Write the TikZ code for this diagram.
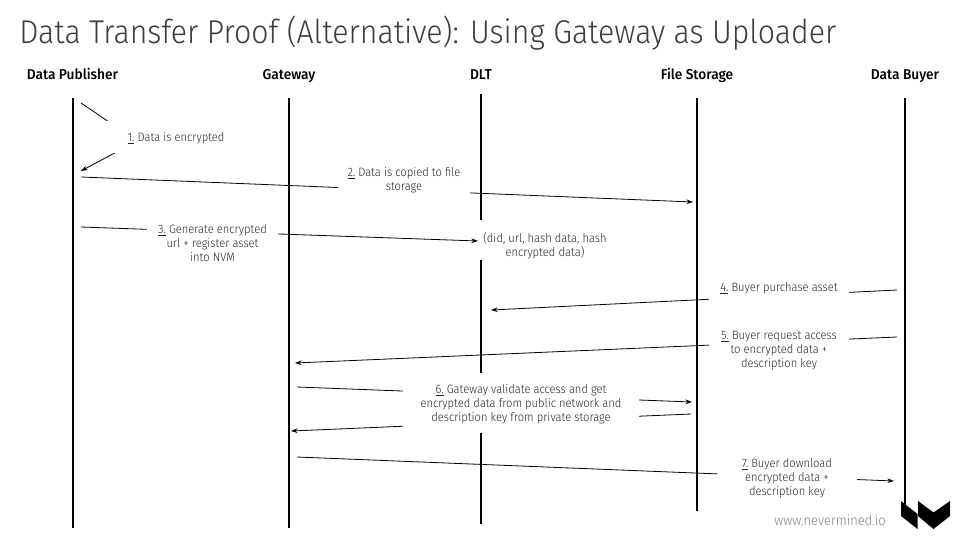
\documentclass[tikz,border=0pt]{standalone}
\usepackage{fontspec}
\setmainfont{Fira Sans Light}[FakeStretch=0.92,BoldFont=Fira Sans Medium,BoldFeatures={FakeStretch=0.96}]
\usetikzlibrary{backgrounds,arrows.meta}
\definecolor{softgrey}{RGB}{40,40,40}
\definecolor{titlegrey}{RGB}{60,60,60}
\tikzset{
  actor/.style={font=\bfseries\fontsize{10.7}{12}\selectfont, text=black, anchor=base},
  lifeline/.style={line width=1.5pt, black},
  msgline/.style={line width=0.6pt, black},
  msg/.style={msgline, -{Stealth[length=5pt,width=3.5pt]}},
  lbl/.style={font=\fontsize{9.1}{10.5}\selectfont, text=softgrey, fill=white, align=center,
    inner sep=0pt, text depth=0pt},
}
\begin{document}
\begin{tikzpicture}[x=0.75pt,y=-0.75pt]
  \useasboundingbox (0,0) rectangle (960,540);
  % Title
  \node[anchor=base west, inner sep=0pt, text=titlegrey, font=\fontsize{24.7}{28}\selectfont] (title) at (19,43)
    {Data Transfer Proof (Alternative): Using Gateway as Uploader};
  % Actors and their lifelines
  \foreach \name/\x/\ytop/\ybot/\txt in {pub/72.5/98/528/Data Publisher, gate/289/98/528/Gateway,
      dlt/481/94/524/DLT, store/697/98/511/File Storage, buyer/905/98/505/Data Buyer} {
    \node[actor] (\name) at (\x,79) {\txt};
    \coordinate (\name top) at (\x,\ytop);
    \coordinate (\name bot) at (\x,\ybot);
  }
  % Labels
  \node[lbl, minimum width=105pt, minimum height=24pt] (m1) at (176,137) {\underline{1.} Data is encrypted};
  \node[lbl, minimum width=99pt, minimum height=29pt] (m2) at (404,179) {\underline{2.} Data is copied to file\\storage};
  \node[lbl, minimum width=98pt, minimum height=42pt] (m3) at (212.5,243) {\underline{3.} Generate encrypted\\url + register asset\\into NVM};
  \node[lbl, minimum width=100pt, minimum height=30pt] (m3b) at (545,240) {\rule{0pt}{14pt}(did, url, hash data, hash\\encrypted data)};
  \node[lbl, minimum width=105pt, minimum height=23pt] (m4) at (779,287) {\underline{4.} Buyer purchase asset};
  \node[lbl, minimum width=105pt, minimum height=38pt] (m5) at (779,349) {\underline{5.} Buyer request access\\to encrypted data +\\description key};
  \node[lbl, minimum width=177pt, minimum height=45pt] (m6) at (521,402.5) {\underline{6.} Gateway validate access and get\\encrypted data from public network and\\description key from private storage};
  \node[lbl, minimum width=105pt, minimum height=40pt] (m7) at (787,477) {\underline{7.} Buyer download\\encrypted data +\\description key};
  \node[text=gray, font=\fontsize{10.5}{12}\selectfont] (site) at (830,520) {www.nevermined.io};
  % Free ends of the messages
  \coordinate (a1) at (81,103);   \coordinate (k1) at (137,141); \coordinate (b1) at (81,171);
  \coordinate (a2) at (81,177);   \coordinate (b2) at (693,202);
  \coordinate (a3) at (81,227);   \coordinate (b3) at (478,241);
  \coordinate (a4) at (897,290);  \coordinate (b4) at (491,310);
  \coordinate (a5) at (897,337);  \coordinate (b5) at (295,363);
  \coordinate (a6) at (297,387);  \coordinate (b6) at (692,402);
  \coordinate (c6) at (691,414);  \coordinate (d6) at (291,431);
  \coordinate (a7) at (297,457);  \coordinate (b7) at (894,481);
  % Everything that runs behind the labels
  \begin{scope}[on background layer]
    \foreach \name in {pub,gate,dlt,store,buyer}
      \draw[lifeline] (\name top) -- (\name bot);
    \draw[msg] (a1) -- (k1) -- (b1);
    \foreach \p/\q in {a2/b2, a3/b3, a4/b4, a5/b5, a6/b6, c6/d6, a7/b7}
      \draw[msg] (\p) -- (\q);
  \end{scope}
  % Logo
  \fill[black] (901,501) -- (917.5,514) -- (917.5,529) -- (901,516) -- cycle;
  \fill[black] (918,501) -- (933.5,512.5) -- (950,501) -- (950,516) -- (933.5,529) -- (918,516) -- cycle;
\end{tikzpicture}
\end{document}
